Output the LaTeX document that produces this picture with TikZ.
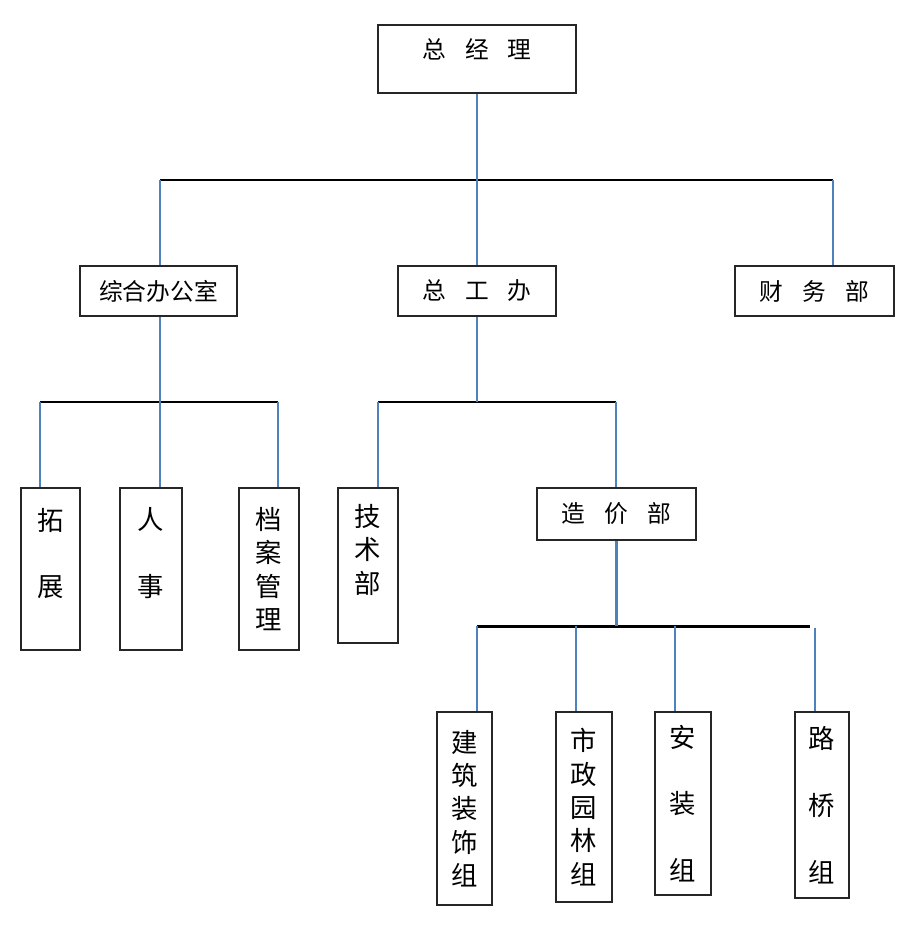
\documentclass[tikz,border=0pt]{standalone}
\usepackage{fontspec}
\newfontfamily\cjk{Noto Sans CJK SC}
\usepackage{xcolor}
\definecolor{orgblue}{RGB}{79,129,189}
\definecolor{orgframe}{RGB}{38,38,38}
\usetikzlibrary{calc}

\begin{document}
\begin{tikzpicture}[x=0.02cm, y=-0.02cm,
    orgbox/.style={rectangle, draw=orgframe, line width=0.85pt, inner sep=0pt,
      minimum height=1.0cm, font=\cjk\fontsize{13.5}{16}\selectfont},
    tallbox/.style={orgbox, align=center, font=\cjk\fontsize{15}{19}\selectfont},
    bus/.style={black, line width=1.7pt},
    conn/.style={orgblue, line width=1.3pt}
  ]
    \useasboundingbox (0,0) rectangle (916,946);

    % Top level
    \node[orgbox, minimum width=3.96cm, minimum height=1.36cm, text depth=0.4cm] (gm) at (477,59)
      {总\hspace{.8em}经\hspace{.8em}理};

    % Second level
    \node[orgbox, minimum width=3.14cm] (zhb) at (158.5,291) {综合办公室};
    \node[orgbox, minimum width=3.16cm] (zgb) at (477,291) {总\hspace{.8em}工\hspace{.8em}办};
    \node[orgbox, minimum width=3.18cm] (cwb) at (814.5,291) {财\hspace{.8em}务\hspace{.8em}部};

    % Under the office
    \node[tallbox, minimum width=1.18cm, minimum height=3.24cm] (tz) at (50.5,569) {拓\\\mbox{}\\展\\\mbox{}};
    \node[tallbox, minimum width=1.24cm, minimum height=3.24cm] (rs) at (151,569) {人\\\mbox{}\\事\\\mbox{}};
    \node[tallbox, minimum width=1.2cm, minimum height=3.24cm] (da) at (269,569) {档\\案\\管\\理};

    % Under the chief engineer
    \node[tallbox, minimum width=1.2cm, minimum height=3.1cm] (js) at (368,565.5) {技\\术\\部\\\mbox{}};
    \node[orgbox, minimum width=3.18cm, minimum height=1.04cm] (zjb) at (616.5,514)
      {造\hspace{.8em}价\hspace{.8em}部};

    % Groups
    \node[tallbox, minimum width=1.1cm, minimum height=3.86cm] (jz) at (464.5,808.5) {建\\筑\\装\\饰\\组};
    \node[tallbox, minimum width=1.12cm, minimum height=3.8cm] (sz) at (584,807) {市\\政\\园\\林\\组};
    \node[tallbox, minimum width=1.12cm, minimum height=3.66cm] (az) at (683,803.5) {安\\\mbox{}\\装\\\mbox{}\\组};
    \node[tallbox, minimum width=1.08cm, minimum height=3.72cm] (lq) at (822,805) {路\\\mbox{}\\桥\\\mbox{}\\组};

    % Level 1 lines
    \coordinate (t1) at (160,180);
    \coordinate (t2) at (833,180);
    \draw[bus] (t1) -- (t2);
    \draw[conn] (gm) -- (zgb);
    \draw[conn] (t1) -- (t1 |- zhb.north);
    \draw[conn] (t2) -- (t2 |- cwb.north);

    % Level 2 lines, left
    \coordinate (a1) at (40,402);
    \coordinate (a2) at (160,402);
    \coordinate (a3) at (278,402);
    \draw[bus] (a1) -- (a3);
    \draw[conn] (a2 |- zhb.south) -- (a2 |- rs.north);
    \draw[conn] (a1) -- (a1 |- tz.north);
    \draw[conn] (a3) -- (a3 |- da.north);

    % Level 2 lines, middle
    \coordinate (b1) at (378,402);
    \coordinate (b2) at (616,402);
    \draw[bus] (b1) -- (b2);
    \draw[conn] (zgb) -- (zgb |- b1);
    \draw[conn] (b1) -- (b1 |- js.north);
    \draw[conn] (b2) -- (b2 |- zjb.north);

    % Level 3 lines
    \coordinate (c1) at (477,626);
    \coordinate (c2) at (576,626);
    \coordinate (c3) at (675,626);
    \coordinate (c4) at (815,628);
    \coordinate (ce) at (810,626);
    \draw[bus] (c1) -- (ce);
    \draw[conn] (zjb) -- (zjb |- c1);
    \draw[conn] (c1) -- (c1 |- jz.north);
    \draw[conn] (c2) -- (c2 |- sz.north);
    \draw[conn] (c3) -- (c3 |- az.north);
    \draw[conn] (c4) -- (c4 |- lq.north);
  \end{tikzpicture}
\end{document}
